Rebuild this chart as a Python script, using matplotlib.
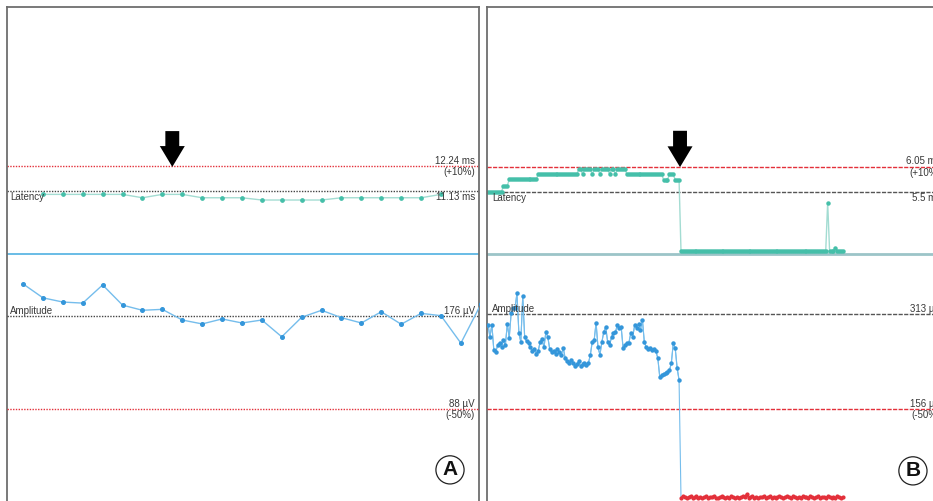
import matplotlib.pyplot as plt

plt.rcParams['font.family'] = ['Liberation Sans', 'DejaVu Sans']

# ---- panel A: one value per trial ----
trials_a = list(range(1, 25))
amp_a = [206.4, 193.2, 189.2, 188.2, 205.4, 186.3, 181.4, 182.3, 172.2, 168.5, 173.2, 169.4,
         172.2, 156.3, 174.8, 181.4, 174.4, 169.4, 180.0, 168.2, 178.5, 176.3, 150.3, 187.0]
lat_trials_a = list(range(2, 23))
lat_a = [10.98, 10.98, 10.98, 10.98, 10.98, 10.83, 10.98, 10.98, 10.83, 10.83, 10.83,
         10.73, 10.73, 10.73, 10.73, 10.83, 10.83, 10.83, 10.83, 10.83, 10.98]
lat_base_a, lat_warn_a = 11.13, 12.24
amp_base_a, amp_warn_a = 176, 88

# ---- panel B: continuous sweeps, signal lost after sweep 100 ----
lat_b = [5.50, 5.50, 5.50, 5.50, 5.50, 5.50, 5.50, 5.50, 5.63, 5.63, 5.63, 5.77,
         5.77, 5.77, 5.77, 5.77, 5.77, 5.77, 5.77, 5.77, 5.77, 5.77, 5.77, 5.77,
         5.77, 5.77, 5.88, 5.88, 5.88, 5.88, 5.88, 5.88, 5.88, 5.88, 5.88, 5.88,
         5.88, 5.88, 5.88, 5.88, 5.88, 5.88, 5.88, 5.88, 5.88, 5.88, 5.88, 6.00,
         6.00, 5.88, 6.00, 6.00, 6.00, 6.00, 5.88, 6.00, 6.00, 6.00, 5.88, 6.00,
         6.00, 6.00, 6.00, 5.88, 6.00, 6.00, 5.88, 6.00, 6.00, 6.00, 6.00, 6.00,
         5.88, 5.88, 5.88, 5.88, 5.88, 5.88, 5.88, 5.88, 5.88, 5.88, 5.88, 5.88,
         5.88, 5.88, 5.88, 5.88, 5.88, 5.88, 5.88, 5.76, 5.76, 5.76, 5.88, 5.88,
         5.88, 5.76, 5.76, 5.76,
         4.20, 4.20, 4.20, 4.20, 4.20, 4.20, 4.20, 4.20, 4.20, 4.20, 4.20, 4.20,
         4.20, 4.20, 4.20, 4.20, 4.20, 4.20, 4.20, 4.20, 4.20, 4.20, 4.20, 4.20,
         4.20, 4.20, 4.20, 4.20, 4.20, 4.20, 4.20, 4.20, 4.20, 4.20, 4.20, 4.20,
         4.20, 4.20, 4.20, 4.20, 4.20, 4.20, 4.20, 4.20, 4.20, 4.20, 4.20, 4.20,
         4.20, 4.20, 4.20, 4.20, 4.20, 4.20, 4.20, 4.20, 4.20, 4.20, 4.20, 4.20,
         4.20, 4.20, 4.20, 4.20, 4.20, 4.20, 4.20, 4.20, 4.20, 4.20, 4.20, 4.20,
         4.20, 4.20, 4.20, 4.20, 5.26, 4.20, 4.20, 4.20, 4.27, 4.20, 4.20, 4.20,
         4.20]
amp_b_pre = [296, 275, 296, 254, 250, 262, 266, 258, 270, 262, 297, 274,
             315, 323, 323, 348, 282, 267, 343, 275, 268, 265, 258, 252,
             256, 248, 252, 267, 272, 258, 284, 275, 255, 250, 252, 248,
             255, 250, 246, 257, 240, 236, 232, 238, 232, 228, 230, 235,
             227, 230, 233, 229, 232, 245, 267, 270, 299, 258, 246, 267,
             284, 292, 267, 262, 275, 282, 283, 295, 291, 292, 257, 262,
             265, 266, 282, 276, 295, 291, 297, 287, 304, 267, 258, 255,
             257, 254, 256, 252, 240, 209, 212, 214, 215, 217, 220, 232,
             265, 257, 224, 204]
amp_b_post = [9, 11, 10, 8, 10, 12, 9, 10, 11, 9, 10, 8,
              10, 11, 9, 10, 10, 12, 9, 8, 10, 11, 10, 9,
              10, 9, 11, 10, 8, 10, 9, 10, 11, 10, 15, 9,
              10, 11, 9, 10, 8, 10, 10, 12, 9, 10, 11, 9,
              10, 8, 10, 11, 10, 9, 10, 12, 10, 9, 11, 10,
              8, 10, 9, 11, 10, 10, 9, 12, 10, 8, 10, 11,
              9, 10, 10, 9, 11, 10, 8, 10, 9, 11, 10, 9,
              10]
sweeps_b = list(range(1, len(lat_b) + 1))
lost_at = len(amp_b_pre)
lat_base_b, lat_warn_b = 5.5, 6.05
amp_base_b, amp_warn_b = 313, 156

W, H = 933, 501
TOP = 7
fig = plt.figure(figsize=(W / 100, H / 100), dpi=100)

TEXT = '#383838'
TEAL, TEAL_LINE = '#45bfa9', '#a3dcd2'
BLUE, BLUE_LINE = '#3496da', '#75bdec'
RED = '#e3303a'


def fit_rows(ax, v1, r1, v2, r2):
    # place value v1 on pixel row r1 and v2 on row r2
    s = (v1 - v2) / (r2 - r1)
    ax.set_ylim(v1 - (H - r1) * s, v1 + (r1 - TOP) * s)


def make_panel(left, right, xlim):
    ax = fig.add_axes([left / W, 0, (right - left) / W, (H - TOP) / H])
    ax.set_xlim(*xlim)
    ax.set_xticks([])
    ax.set_yticks([])
    for side, sp in ax.spines.items():
        sp.set_color('#6e6e6e')
        sp.set_linewidth(1.3)
    ax.spines['bottom'].set_visible(False)
    amp = ax.twinx()
    amp.set_yticks([])
    for sp in amp.spines.values():
        sp.set_visible(False)
    return ax, amp


def ref_label(ax, y, lines, above, xpos, ha):
    ax.annotate(lines[0], xy=(xpos, y), xycoords=ax.get_yaxis_transform(),
                xytext=(0, 0.3 if above else -0.8), textcoords='offset points',
                ha=ha, va='bottom' if above else 'top', fontsize=7, color=TEXT)
    if len(lines) > 1:
        ax.annotate(lines[1], xy=(xpos, y), xycoords=ax.get_yaxis_transform(),
                    xytext=(0, -0.8), textcoords='offset points',
                    ha=ha, va='top', fontsize=7, color=TEXT)


def separator(ax, row, color, lw):
    f = (H - row) / (H - TOP)
    ax.plot([0, 1], [f, f], transform=ax.transAxes, color=color, lw=lw)


def arrow(ax, x, tip, tail):
    ax.annotate('', xy=(x, tip), xytext=(x, tail),
                arrowprops=dict(facecolor='black', edgecolor='none', width=10,
                                headwidth=18, headlength=15, shrink=0))


def badge(ax, x, y, letter):
    ax.text(x, y, letter, transform=ax.transAxes, ha='center', va='center',
            fontsize=15, fontweight='bold', color='#111',
            bbox=dict(boxstyle='circle,pad=0.22', fc='white', ec='#222', lw=0.9))


# ---------- panel A ----------
axA, ampA = make_panel(7.5, 479, (0.22, 23.91))
fit_rows(axA, lat_base_a, 191, lat_warn_a, 166)
fit_rows(ampA, amp_base_a, 316, amp_warn_a, 409)

axA.axhline(lat_warn_a, color=RED, lw=1, dashes=(1, 1))
axA.axhline(lat_base_a, color='#444', lw=1, dashes=(1, 1))
ampA.axhline(amp_base_a, color='#444', lw=1, dashes=(1, 1))
ampA.axhline(amp_warn_a, color=RED, lw=1, dashes=(1, 1))
separator(axA, 254, '#4fb0e2', 1.2)

axA.plot(lat_trials_a, lat_a, color=TEAL_LINE, lw=1, marker='o', ms=2.4,
         mfc=TEAL, mec=TEAL)
ampA.plot(trials_a, amp_a, color=BLUE_LINE, lw=1, marker='o', ms=2.6,
          mfc=BLUE, mec=BLUE)

xr = 0.9915
ref_label(axA, lat_warn_a, ['12.24 ms', '(+10%)'], True, xr, 'right')
ref_label(axA, lat_base_a, ['11.13 ms'], False, xr, 'right')
ref_label(axA, lat_base_a, ['Latency'], False, 0.005, 'left')
ref_label(ampA, amp_base_a, ['176 µV'], True, xr, 'right')
ref_label(ampA, amp_base_a, ['Amplitude'], True, 0.005, 'left')
ref_label(ampA, amp_warn_a, ['88 µV', '(-50%)'], True, xr, 'right')

arrow(axA, 8.5, 12.2, 13.79)
badge(axA, 0.9385, 0.063, 'A')

# ---------- panel B ----------
axB, ampB = make_panel(487, 945, (0.48, 237.8))
fit_rows(axB, lat_base_b, 191.7, lat_warn_b, 166.7)
fit_rows(ampB, amp_base_b, 314.3, amp_warn_b, 409)
axB.spines['right'].set_visible(False)

axB.axhline(lat_warn_b, color=RED, lw=1, dashes=(3, 1))
axB.axhline(lat_base_b, color='#555', lw=1, dashes=(3, 1))
ampB.axhline(amp_base_b, color='#555', lw=1, dashes=(3, 1))
ampB.axhline(amp_warn_b, color=RED, lw=1, dashes=(3, 1))
separator(axB, 254, '#9cc4c8', 2)

axB.plot(sweeps_b, lat_b, color=TEAL_LINE, lw=1, marker='o', ms=2.2,
         mfc=TEAL, mec=TEAL)
ampB.plot(sweeps_b[:lost_at + 1], amp_b_pre + amp_b_post[:1], color=BLUE_LINE, lw=0.8)
ampB.plot(sweeps_b[:lost_at], amp_b_pre, color=BLUE_LINE, lw=0.8, marker='o', ms=2.2,
          mfc=BLUE, mec=BLUE)
ampB.plot(sweeps_b[lost_at:], amp_b_post, color=RED, lw=1.2, marker='o', ms=2,
          mfc=RED, mec=RED)

# the right-hand labels run past the figure edge, as in the recorder's view
xr = 0.9913
ref_label(axB, lat_warn_b, ['6.05 ms', '(+10%)'], True, xr, 'right')
ref_label(axB, lat_base_b, ['5.5 ms'], False, xr, 'right')
ref_label(axB, lat_base_b, ['Latency'], False, 0.011, 'left')
ref_label(ampB, amp_base_b, ['313 µV'], True, xr, 'right')
ref_label(ampB, amp_base_b, ['Amplitude'], True, 0.011, 'left')
ref_label(ampB, amp_warn_b, ['156 µV', '(-50%)'], True, xr, 'right')

arrow(axB, 100.5, 6.04, 6.84)
badge(axB, 0.930, 0.061, 'B')

fig.savefig('out.png', dpi=100)
